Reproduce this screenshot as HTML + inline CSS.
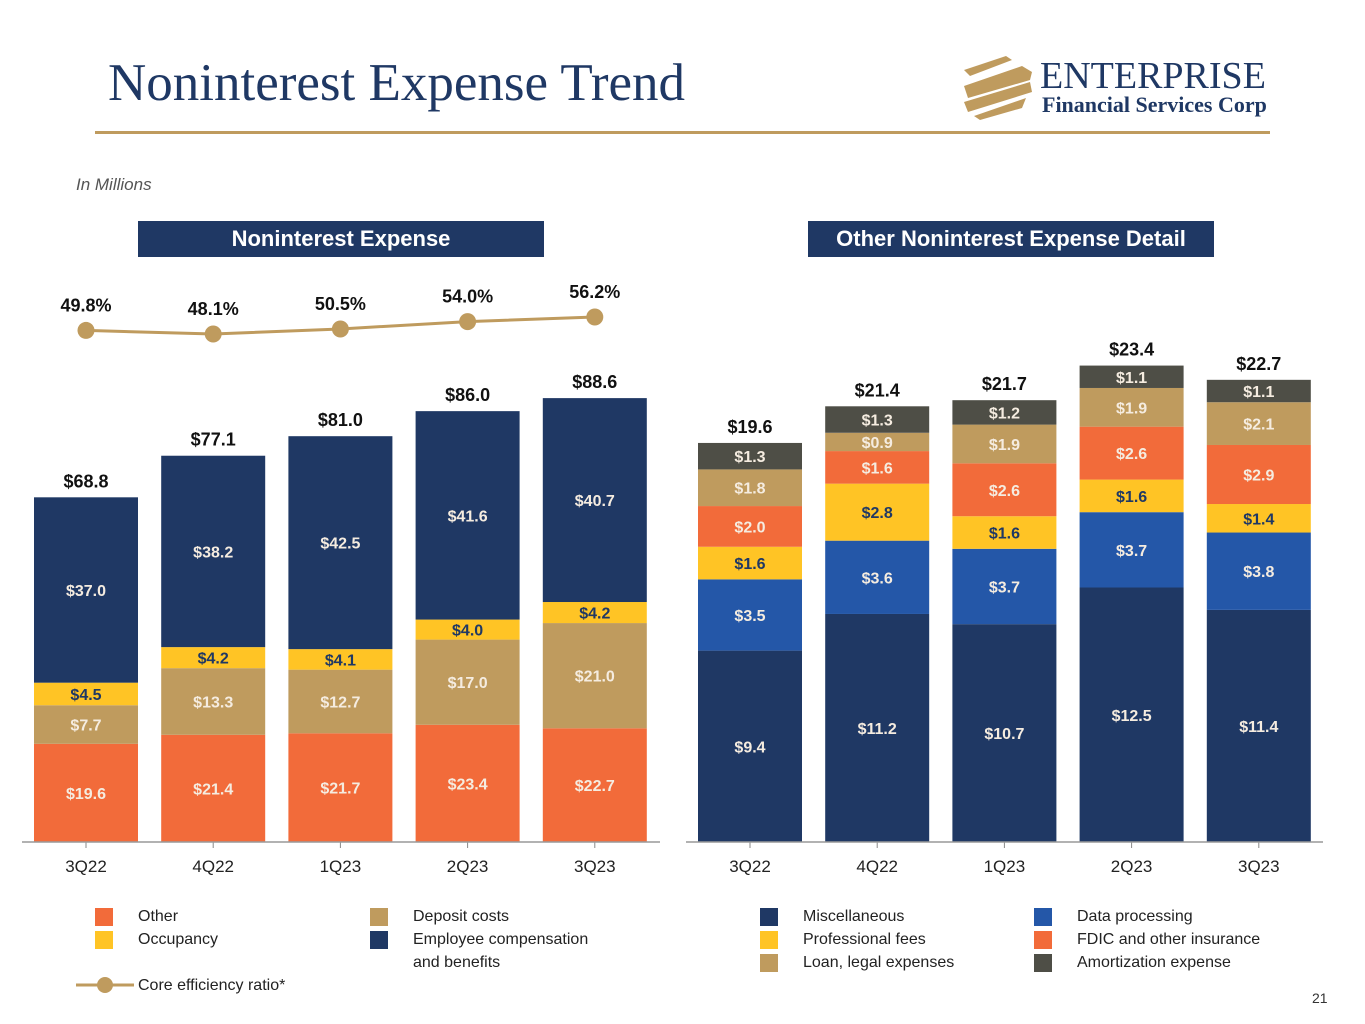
<!DOCTYPE html>
<html><head><meta charset="utf-8"><style>
body{margin:0;width:1365px;height:1024px;background:#fff;overflow:hidden;font-family:"Liberation Sans",sans-serif;position:relative}
.abs{position:absolute}
.hdr{position:absolute;background:#1f3864;color:#fff;font-weight:bold;font-size:22px;text-align:center;line-height:36px;height:36px}
.lg{position:absolute;font-size:16px;color:#222;margin-top:2px}
.sw{position:absolute;width:18px;height:18px;margin-top:2px}
</style></head><body>
<div class="abs" style="left:108px;top:53px;font-family:'Liberation Serif',serif;font-size:53px;color:#1f3864">Noninterest Expense Trend</div>
<svg class="abs" style="left:960px;top:52px" width="320" height="72">
<g fill="#bf9b5e"><polygon points="4,18 46,4 52,8 10,24"/><polygon points="4,34 62,14 72,20 70,28 8,46"/><polygon points="4,50 70,30 72,40 8,60"/><polygon points="14,64 66,46 62,56 20,68"/></g>
<text x="80" y="36" font-family="Liberation Serif,serif" font-size="38" fill="#1f3864">ENTERPRISE</text>
<text x="82" y="60" font-family="Liberation Serif,serif" font-size="22" font-weight="bold" fill="#1f3864">Financial Services Corp</text>
</svg>
<div class="abs" style="left:95px;top:131px;width:1175px;height:3px;background:#bf9b5e"></div>
<div class="abs" style="left:76px;top:175px;font-size:17px;font-style:italic;color:#555">In Millions</div>
<div class="hdr" style="left:138px;top:221px;width:406px">Noninterest Expense</div>
<div class="hdr" style="left:808px;top:221px;width:406px">Other Noninterest Expense Detail</div>
<svg id="chart" class="abs" style="left:0;top:0" width="1365" height="1024"></svg>

<div class="sw" style="left:95px;top:906px;background:#f26b3a"></div>
<div class="lg" style="left:138px;top:906px">Other</div>
<div class="sw" style="left:95px;top:929px;background:#ffc425"></div>
<div class="lg" style="left:138px;top:929px">Occupancy</div>
<div class="sw" style="left:370px;top:906px;background:#bf9b5e"></div>
<div class="lg" style="left:413px;top:906px">Deposit costs</div>
<div class="sw" style="left:370px;top:929px;background:#1f3864"></div>
<div class="lg" style="left:413px;top:926px;line-height:23px">Employee compensation<br>and benefits</div>
<svg class="abs" style="left:76px;top:975px" width="60" height="20"><line x1="0" y1="10" x2="58" y2="10" stroke="#bf9b5e" stroke-width="3"/><circle cx="29" cy="10" r="8" fill="#bf9b5e"/></svg>
<div class="lg" style="left:138px;top:975px">Core efficiency ratio*</div>

<div class="sw" style="left:760px;top:906px;background:#1f3864"></div>
<div class="lg" style="left:803px;top:906px">Miscellaneous</div>
<div class="sw" style="left:760px;top:929px;background:#ffc425"></div>
<div class="lg" style="left:803px;top:929px">Professional fees</div>
<div class="sw" style="left:760px;top:952px;background:#bf9b5e"></div>
<div class="lg" style="left:803px;top:952px">Loan, legal expenses</div>
<div class="sw" style="left:1034px;top:906px;background:#2457a8"></div>
<div class="lg" style="left:1077px;top:906px">Data processing</div>
<div class="sw" style="left:1034px;top:929px;background:#f26b3a"></div>
<div class="lg" style="left:1077px;top:929px">FDIC and other insurance</div>
<div class="sw" style="left:1034px;top:952px;background:#4e4e46"></div>
<div class="lg" style="left:1077px;top:952px">Amortization expense</div>
<div class="abs" style="left:1312px;top:990px;font-size:14px;color:#333">21</div>

<script>
const categories=["3Q22","4Q22","1Q23","2Q23","3Q23"];
const leftOther=[19.6,21.4,21.7,23.4,22.7];
const leftDeposit=[7.7,13.3,12.7,17.0,21.0];
const leftOccupancy=[4.5,4.2,4.1,4.0,4.2];
const leftEmployee=[37.0,38.2,42.5,41.6,40.7];
const leftTotals=[68.8,77.1,81.0,86.0,88.6];
const efficiency=[49.8,48.1,50.5,54.0,56.2];
const rMisc=[9.4,11.2,10.7,12.5,11.4];
const rData=[3.5,3.6,3.7,3.7,3.8];
const rProf=[1.6,2.8,1.6,1.6,1.4];
const rFdic=[2.0,1.6,2.6,2.6,2.9];
const rLoan=[1.8,0.9,1.9,1.9,2.1];
const rAmort=[1.3,1.3,1.2,1.1,1.1];
const rTotals=[19.6,21.4,21.7,23.4,22.7];

const svg=document.getElementById('chart');
const NS='http://www.w3.org/2000/svg';
function mk(tag,attrs,txt){const e=document.createElementNS(NS,tag);for(const k in attrs)e.setAttribute(k,attrs[k]);if(txt!==undefined)e.textContent=txt;svg.appendChild(e);return e;}
const base=842;
const yL=v=>base-v*5.01, yR=v=>base-v*20.36;
const xL=i=>34+i*127.2, xR=i=>698+i*127.2, bw=104;
const yE=v=>334-(v-48.1)*2.1;
function stack(series,cols,txtCols,xf,yf,prefix,totals){
  categories.forEach((c,i)=>{
    let acc=0;
    series.forEach((s,k)=>{
      const v=s[i];const y0=yf(acc),y1=yf(acc+v);
      const r=mk('rect',{x:xf(i),y:y1,width:bw,height:y0-y1,fill:cols[k]});
      
      
      const t=mk('text',{x:xf(i)+bw/2,y:(y0+y1)/2+6,'text-anchor':'middle','font-size':16,'font-weight':'bold',fill:txtCols[k]},'$'+v.toFixed(1));
      
      
      acc+=v;
    });
    const tt=mk('text',{x:xf(i)+bw/2,y:yf(totals[i])-10,'text-anchor':'middle','font-size':18,'font-weight':'bold',fill:'#111'},'$'+totals[i].toFixed(1));
    
    
    const ct=mk('text',{x:xf(i)+bw/2,y:872,'text-anchor':'middle','font-size':17,fill:'#222'},c);
    
    
    const tk=mk('line',{x1:xf(i)+bw/2,x2:xf(i)+bw/2,y1:base,y2:base+6,stroke:'#888'});
    
    
  });
}
const W='#f5ece0',D='#1f3864';
stack([leftOther,leftDeposit,leftOccupancy,leftEmployee],['#f26b3a','#bf9b5e','#ffc425','#1f3864'],[W,W,D,W],xL,yL,'left',leftTotals);
stack([rMisc,rData,rProf,rFdic,rLoan,rAmort],['#1f3864','#2457a8','#ffc425','#f26b3a','#bf9b5e','#4e4e46'],[W,W,D,W,W,W],xR,yR,'right',rTotals);
let ax=mk('line',{x1:22,x2:660,y1:base,y2:base,stroke:'#999','stroke-width':1.5});

ax=mk('line',{x1:686,x2:1323,y1:base,y2:base,stroke:'#999','stroke-width':1.5});

const pts=efficiency.map((v,i)=>(xL(i)+bw/2)+','+yE(v)).join(' ');
const pl=mk('polyline',{points:pts,fill:'none',stroke:'#bf9b5e','stroke-width':3});

efficiency.forEach((v,i)=>{
  const c=mk('circle',{cx:xL(i)+bw/2,cy:yE(v),r:8.5,fill:'#bf9b5e'});
  
  const t=mk('text',{x:xL(i)+bw/2,y:yE(v)-19,'text-anchor':'middle','font-size':18,'font-weight':'bold',fill:'#111'},v.toFixed(1)+'%');
  
});
</script>
</body></html>
